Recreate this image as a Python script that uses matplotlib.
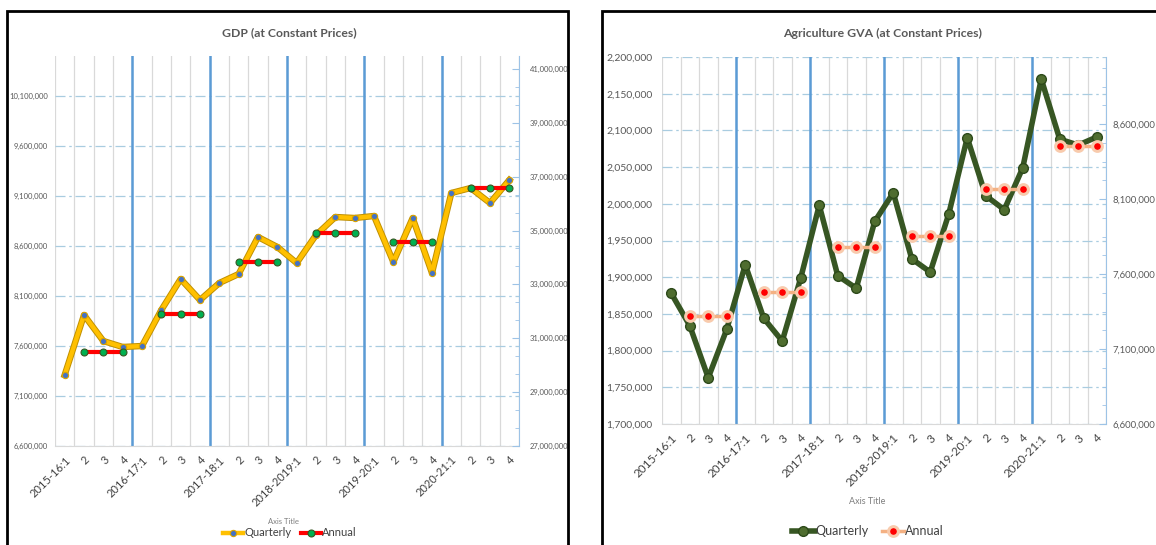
import matplotlib
matplotlib.use('Agg')
import matplotlib.pyplot as plt
import matplotlib.ticker as mticker
from matplotlib.patches import Rectangle
import numpy as np

plt.rcParams['font.family'] = ['Lato', 'DejaVu Sans']

# categories (quarters)
quarters = ['2015-16:1', '2', '3', '4', '2016-17:1', '2', '3', '4',
            '2017-18:1', '2', '3', '4', '2018-2019:1', '2', '3', '4',
            '2019-20:1', '2', '3', '4', '2020-21:1', '2', '3', '4']

# GDP at constant prices, quarterly (left axis) and annual (right axis)
gdp_quarterly = [7310000, 7910000, 7650000, 7590000, 7600000, 7960000, 8270000, 8060000,
                 8230000, 8320000, 8690000, 8590000, 8430000, 8710000, 8890000, 8880000,
                 8900000, 8440000, 8880000, 8330000, 9130000, 9180000, 9030000, 9260000]
gdp_annual = [30490000, 31890000, 33830000, 34910000, 34580000, 36580000]

# Agriculture GVA at constant prices
agri_quarterly = [1878000, 1834000, 1763000, 1829000, 1917000, 1844000, 1813000, 1899000,
                  1998000, 1902000, 1885000, 1976000, 2015000, 1925000, 1907000, 1986000,
                  2090000, 2011000, 1992000, 2049000, 2170000, 2088000, 2080000, 2091000]
agri_annual = [7320000, 7480000, 7780000, 7855000, 8170000, 8455000]

W, H = 1156, 545
fig = plt.figure(figsize=(W / 100, H / 100), dpi=100)
fmt = mticker.StrMethodFormatter('{x:,.0f}')
x = np.arange(len(quarters))
n_years = len(gdp_annual)


def setup(ax, ylim, yticks, ysize, ypad, xsize):
    ax.set_xlim(-0.5, len(quarters) - 0.5)
    ax.set_ylim(*ylim)
    ax.set_yticks(yticks)
    ax.yaxis.set_major_formatter(fmt)
    ax.set_xticks(x)
    ax.set_xticklabels(quarters, rotation=45, ha='right', rotation_mode='anchor',
                       fontsize=xsize, color='#404040')
    ax.set_xticks(np.arange(-0.5, len(quarters), 1), minor=True)
    ax.tick_params(axis='x', which='both', length=0, pad=6)
    ax.tick_params(axis='y', length=0, labelsize=ysize, labelcolor='#595959', pad=ypad)
    ax.grid(axis='x', which='minor', color='#D9D9D9', lw=0.9)
    ax.grid(axis='y', which='major', color='#A9CCE0', lw=0.9, ls=(0, (8, 3, 2, 3)))
    ax.set_axisbelow(True)
    for s in ['top', 'left', 'right']:
        ax.spines[s].set_visible(False)
    ax.spines['bottom'].set_color('#D9D9D9')
    for k in range(1, n_years):
        ax.axvline(4 * k - 0.5, color='#5B9BD5', lw=1.8, zorder=1)


def setup_right(ax2, ylim, yticks, nminor, ysize, ypad):
    ax2.set_ylim(*ylim)
    ax2.set_yticks(yticks)
    ax2.yaxis.set_major_formatter(fmt)
    ax2.yaxis.set_minor_locator(mticker.AutoMinorLocator(nminor))
    for s in ['top', 'left', 'bottom']:
        ax2.spines[s].set_visible(False)
    ax2.spines['right'].set_color('#9DC3E6')
    ax2.tick_params(axis='y', which='both', direction='in', color='#9DC3E6',
                    labelsize=ysize, labelcolor='#595959', pad=ypad)
    ax2.tick_params(axis='y', which='major', length=5)
    ax2.tick_params(axis='y', which='minor', length=3)


# ---------------- GDP panel ----------------
ax = fig.add_axes([55 / W, 1 - 446 / H, 464 / W, 390 / H])
setup(ax, (6600000, 10500000), np.arange(6600000, 10100001, 500000), 5.5, 5, 8)
ax.plot(x, gdp_quarterly, color='#C09000', lw=4.6, zorder=3)
lq, = ax.plot(x, gdp_quarterly, color='#FFC000', lw=3.2, marker='o', ms=4.5,
              mfc='#4472C4', mec='#D9A300', mew=0.8, zorder=3)
ax2 = ax.twinx()
setup_right(ax2, (27000000, 41480000), np.arange(27000000, 41000001, 2000000), 3, 5.5, 8)
for k, v in enumerate(gdp_annual):
    xs = 4 * k + np.array([1, 2, 3])
    la, = ax2.plot(xs, [v] * len(xs), color='#FF0000', lw=3, marker='o', ms=5,
                   mfc='#00B050', mec='#385723', mew=0.8)
fig.text(289 / W, 1 - 33 / H, 'GDP (at Constant Prices)', ha='center', va='center',
         fontsize=8.8, fontweight='bold', color='#595959')
fig.text(283 / W, 1 - 521 / H, 'Axis Title', ha='center', va='center', fontsize=5.5, color='#7F7F7F')
fig.legend([lq, la], ['Quarterly', 'Annual'], loc='center', bbox_to_anchor=(290 / W, 1 - 533 / H),
           ncol=2, frameon=False, fontsize=8, handlelength=1.8, handletextpad=0.1,
           columnspacing=0.9, labelcolor='#404040')

# ---------------- Agriculture panel ----------------
bx = fig.add_axes([662 / W, 1 - 424 / H, 444 / W, 367 / H])
setup(bx, (1700000, 2200000), np.arange(1700000, 2200001, 50000), 7.5, 7, 8.5)
bq, = bx.plot(x, agri_quarterly, color='#375623', lw=4, marker='o', ms=7,
              mfc='#4F6D2F', mec='#2D4A1A', mew=1, zorder=3)
bx2 = bx.twinx()
setup_right(bx2, (6600000, 9047000), np.arange(6600000, 8600001, 500000), 4, 6.8, 5)
for k, v in enumerate(agri_annual):
    xs = 4 * k + np.array([1, 2, 3])
    ba, = bx2.plot(xs, [v] * len(xs), color='#F4B183', lw=2.5, marker='o', ms=7,
                   mfc='#FF0000', mec='#F8CBAD', mew=2.2)
fig.text(883 / W, 1 - 33 / H, 'Agriculture GVA (at Constant Prices)', ha='center', va='center',
         fontsize=8.8, fontweight='bold', color='#595959')
fig.text(867 / W, 1 - 501 / H, 'Axis Title', ha='center', va='center', fontsize=6.5, color='#7F7F7F')
fig.legend([bq, ba], ['Quarterly', 'Annual'], loc='center', bbox_to_anchor=(868 / W, 1 - 531 / H),
           ncol=2, frameon=False, fontsize=9, handlelength=1.8, handletextpad=0.1,
           columnspacing=1.0, labelcolor='#404040')

# panel borders
fig.add_artist(Rectangle((7 / W, -0.1), 561 / W, 1.1 - 11 / H, transform=fig.transFigure,
                         fill=False, ec='black', lw=2))
fig.add_artist(Rectangle((602 / W, -0.1), 1.0, 1.1 - 11 / H, transform=fig.transFigure,
                         fill=False, ec='black', lw=2))

fig.savefig('out.png', dpi=100)
